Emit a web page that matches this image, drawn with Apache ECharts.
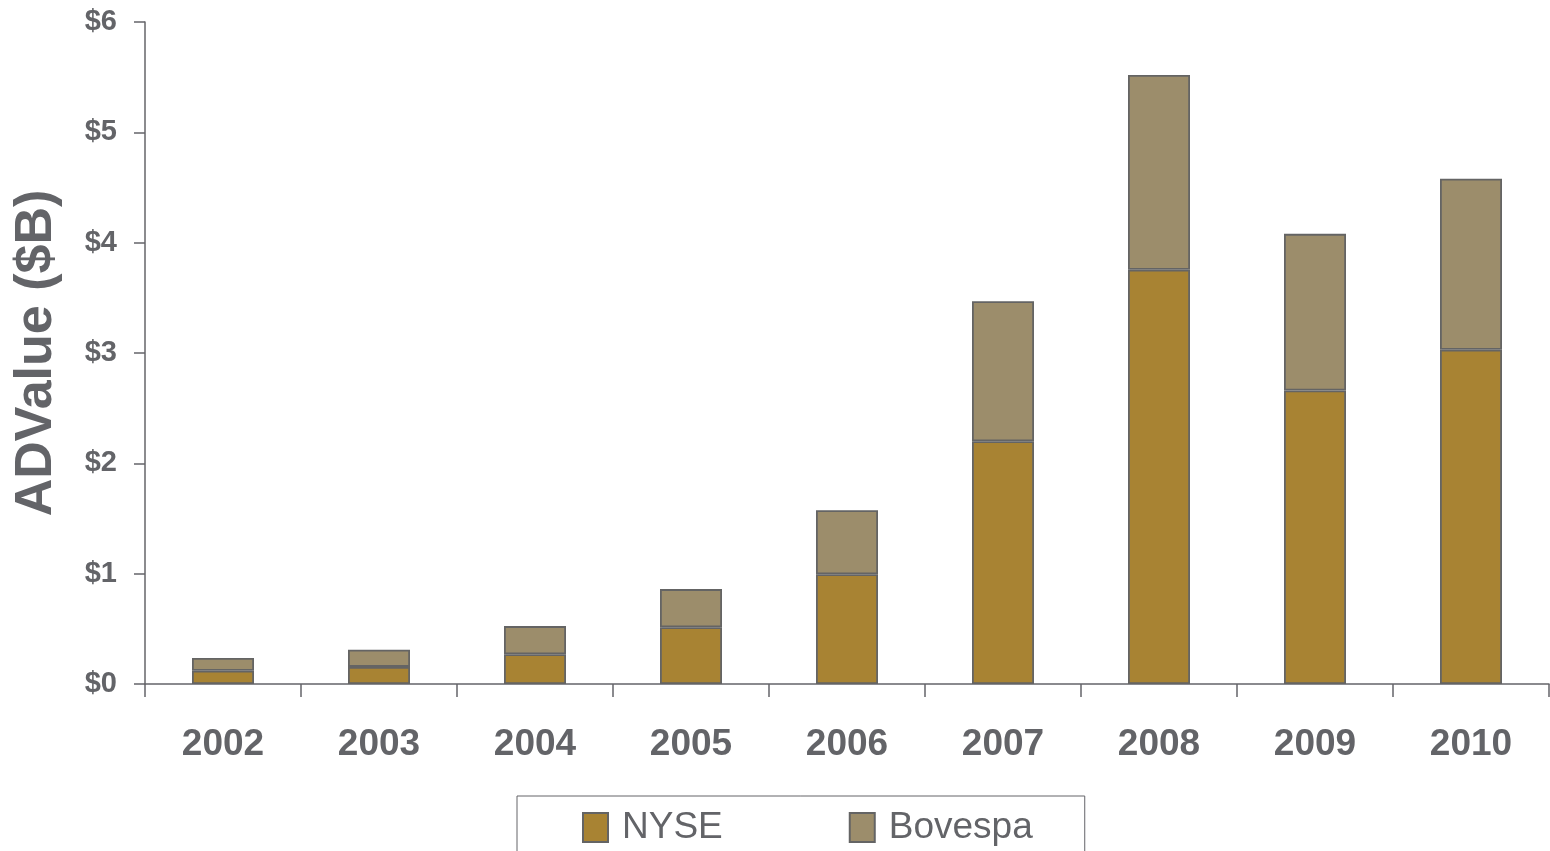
<!DOCTYPE html>
<html>
<head>
<meta charset="utf-8">
<script src="https://cdn.jsdelivr.net/npm/echarts@6/dist/echarts.min.js"></script>
<style>
html,body{margin:0;padding:0;background:#fff;}
#chart{width:1550px;height:851px;}
</style>
</head>
<body>
<div id="chart"></div>
<script>
const years = ['2002','2003','2004','2005','2006','2007','2008','2009','2010'];
const nyse = [0.12, 0.155, 0.27, 0.515, 0.995, 2.20, 3.755, 2.66, 3.03];
const bovespa = [0.115, 0.155, 0.255, 0.345, 0.58, 1.27, 1.765, 1.42, 1.55];
const yTicks = [0, 1, 2, 3, 4, 5, 6];

const axisGray = '#646469';
const textGray = '#636468';
const sans = "'Liberation Sans', Arial, sans-serif";

const chart = echarts.init(document.getElementById('chart'));
chart.setOption({
  animation: false,
  backgroundColor: '#ffffff',
  grid: { left: 145, right: 1, top: 22, bottom: 167, containLabel: false, outerBoundsMode: 'none' },
  legend: {
    data: ['NYSE', 'Bovespa'],
    left: 517,
    top: 796,
    orient: 'horizontal',
    padding: [13, 52, 40, 65],
    borderColor: '#646469',
    borderWidth: 1,
    itemGap: 126,
    itemWidth: 25,
    itemHeight: 29,
    icon: 'rect',
    textStyle: { fontFamily: sans, fontSize: 37, color: textGray, padding: [0, 0, 0, 9] }
  },
  xAxis: {
    type: 'category',
    data: years,
    axisLine: { lineStyle: { color: axisGray, width: 1.5 } },
    axisTick: { show: true, length: 13, alignWithLabel: false, lineStyle: { color: axisGray, width: 1.5 } },
    axisLabel: { fontFamily: sans, fontWeight: 'bold', fontSize: 37, color: textGray, margin: 42 }
  },
  yAxis: {
    type: 'value',
    min: yTicks[0],
    max: yTicks[yTicks.length - 1],
    interval: 1,
    name: 'ADValue ($B)',
    nameLocation: 'middle',
    nameGap: 82,
    nameRotate: 90,
    nameTextStyle: { fontFamily: sans, fontWeight: 'bold', fontSize: 52, color: textGray },
    axisLine: { show: true, lineStyle: { color: axisGray, width: 1.5 } },
    axisTick: { show: true, length: 11, lineStyle: { color: axisGray, width: 1.5 } },
    splitLine: { show: false },
    axisLabel: {
      fontFamily: sans, fontWeight: 'bold', fontSize: 29, color: textGray, margin: 28,
      formatter: v => '$' + v
    }
  },
  series: [
    {
      name: 'NYSE', type: 'bar', stack: 'total', data: nyse, barWidth: 62,
      itemStyle: { color: '#A88333', borderColor: '#646464', borderWidth: 1.8 }
    },
    {
      name: 'Bovespa', type: 'bar', stack: 'total', data: bovespa, barWidth: 62,
      itemStyle: { color: '#9C8D6B', borderColor: '#646464', borderWidth: 1.8 }
    }
  ]
});
</script>
</body>
</html>
